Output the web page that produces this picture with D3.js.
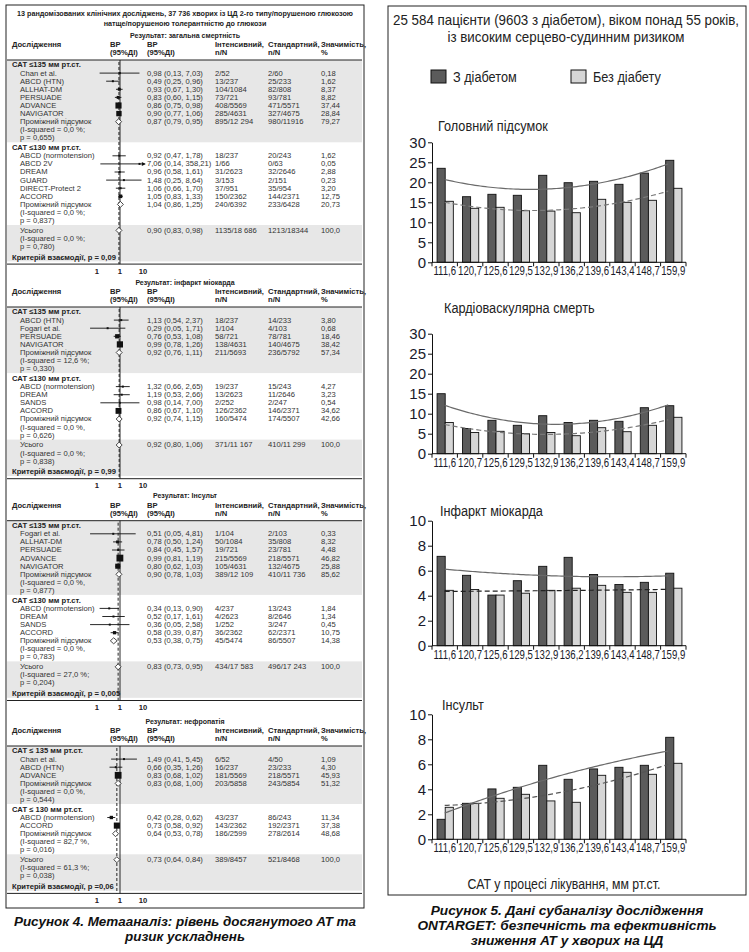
<!DOCTYPE html>
<html><head><meta charset="utf-8">
<script src="https://cdn.jsdelivr.net/npm/d3@7"></script>
<style>body{margin:0;background:#fff}svg{display:block}</style>
</head><body><svg id="c" width="749" height="952"></svg>
<script>
// ---------------- DATA: forest plot (Рисунок 4) ----------------
const forestTitle = ["13 рандомізованих клінічних досліджень, 37 736 хворих із ЦД 2-го типу/порушеною глюкозою",
                     "натще/порушеною толерантністю до глюкози"];
const sectionTitles = ["Результат: загальна смертність", "Результат: інфаркт міокарда", "Результат: Інсульт", "Результат: нефропатія"];
const groupLabelsA = ["САТ ≤135 мм рт.ст.", "САТ ≤135 мм рт.ст.", "САТ ≤135 мм рт.ст.", "САТ ≤ 135 мм рт.ст."];
const groupLabelsB = ["САТ ≤130 мм рт.ст.", "САТ ≤130 мм рт.ст.", "САТ ≤130 мм рт.ст.", "САТ ≤ 130 мм рт.ст."];
// [study, RR, CI low, CI high, intensive n/N, standard n/N, weight %]
const mortA = [
  ["Chan et al.", 0.98, 0.13, 7.03, "2/52", "2/60", 0.18],
  ["ABCD (HTN)", 0.49, 0.25, 0.96, "13/237", "25/233", 1.62],
  ["ALLHAT-DM", 0.93, 0.67, 1.30, "104/1084", "82/808", 8.37],
  ["PERSUADE", 0.83, 0.60, 1.15, "73/721", "93/781", 8.82],
  ["ADVANCE", 0.86, 0.75, 0.98, "408/5569", "471/5571", 37.44],
  ["NAVIGATOR", 0.90, 0.77, 1.06, "285/4631", "327/4675", 28.84]];
const mortB = [
  ["ABCD (normotension)", 0.92, 0.47, 1.78, "18/237", "20/243", 1.62],
  ["ABCD 2V", 7.06, 0.14, 358.21, "1/66", "0/63", 0.05],
  ["DREAM", 0.96, 0.58, 1.61, "31/2623", "32/2646", 2.88],
  ["GUARD", 1.48, 0.25, 8.64, "3/153", "2/151", 0.23],
  ["DIRECT-Protect 2", 1.06, 0.66, 1.70, "37/951", "35/954", 3.20],
  ["ACCORD", 1.05, 0.83, 1.33, "150/2362", "144/2371", 12.75]];
const miA = [
  ["ABCD (HTN)", 1.13, 0.54, 2.37, "18/237", "14/233", 3.80],
  ["Fogari et al.", 0.29, 0.05, 1.71, "1/104", "4/103", 0.68],
  ["PERSUADE", 0.76, 0.53, 1.08, "58/721", "78/781", 18.46],
  ["NAVIGATOR", 0.99, 0.78, 1.26, "138/4631", "140/4675", 38.42]];
const miB = [
  ["ABCD (normotension)", 1.32, 0.66, 2.65, "19/237", "15/243", 4.27],
  ["DREAM", 1.19, 0.53, 2.66, "13/2623", "11/2646", 3.23],
  ["SANDS", 0.98, 0.14, 7.00, "2/252", "2/247", 0.54],
  ["ACCORD", 0.86, 0.67, 1.10, "126/2362", "146/2371", 34.62]];
const strokeA = [
  ["Fogari et al.", 0.51, 0.05, 4.81, "1/104", "2/103", 0.33],
  ["ALLHAT-DM", 0.78, 0.50, 1.24, "50/1084", "35/808", 8.32],
  ["PERSUADE", 0.84, 0.45, 1.57, "19/721", "23/781", 4.48],
  ["ADVANCE", 0.99, 0.81, 1.19, "215/5569", "218/5571", 46.82],
  ["NAVIGATOR", 0.80, 0.62, 1.03, "105/4631", "132/4675", 25.88]];
const strokeB = [
  ["ABCD (normotension)", 0.34, 0.13, 0.90, "4/237", "13/243", 1.84],
  ["DREAM", 0.52, 0.17, 1.61, "4/2623", "8/2646", 1.34],
  ["SANDS", 0.36, 0.05, 2.58, "1/252", "3/247", 0.45],
  ["ACCORD", 0.58, 0.39, 0.87, "36/2362", "62/2371", 10.75]];
const nephA = [
  ["Chan et al.", 1.49, 0.41, 5.45, "6/52", "4/50", 1.09],
  ["ABCD (HTN)", 0.66, 0.35, 1.26, "16/237", "23/233", 4.30],
  ["ADVANCE", 0.83, 0.68, 1.02, "181/5569", "218/5571", 45.93]];
const nephB = [
  ["ABCD (normotension)", 0.42, 0.28, 0.62, "43/237", "86/243", 11.34],
  ["ACCORD", 0.73, 0.58, 0.92, "143/2362", "192/2371", 37.38]];
const studiesA = [mortA, miA, strokeA, nephA];
const studiesB = [mortB, miB, strokeB, nephB];
// [RR, low, high, intensive, standard, weight]
const subtotalsA = [[0.87, 0.79, 0.95, "895/12 294", "980/11916", 79.27],
                    [0.92, 0.76, 1.11, "211/5693", "236/5792", 57.34],
                    [0.90, 0.78, 1.03, "389/12 109", "410/11 736", 85.62],
                    [0.83, 0.68, 1.00, "203/5858", "243/5854", 51.32]];
const subtotalsB = [[1.04, 0.86, 1.25, "240/6392", "233/6428", 20.73],
                    [0.92, 0.74, 1.15, "160/5474", "174/5507", 42.66],
                    [0.53, 0.38, 0.75, "45/5474", "86/5507", 14.38],
                    [0.64, 0.53, 0.78, "186/2599", "278/2614", 48.68]];
const overallRows = [[0.90, 0.83, 0.98, "1135/18 686", "1213/18344", 100],
                     [0.92, 0.80, 1.06, "371/11 167", "410/11 299", 100],
                     [0.83, 0.73, 0.95, "434/17 583", "496/17 243", 100],
                     [0.73, 0.64, 0.84, "389/8457", "521/8468", 100]];
const hetA = [["0,0 %;", "0,655"], ["12,6 %;", "0,330"], ["0,0 %,", "0,877"], ["0,0 %,", "0,544"]];
const hetB = [["0,0 %;", "0,837"], ["0,0 %,", "0,626"], ["0,0 %,", "0,783"], ["82,7 %,", "0,016"]];
const hetAll = [["0,0 %;", "0,780"], ["0,0 %;", "0,838"], ["27,0 %;", "0,204"], ["61,3 %;", "0,038"]];
const interactionP = ["p = 0,09", "p = 0,99", "p = 0,005", "p =0,06"];
const forestTicks = [0.1, 1, 10];
const forestTickLabels = ["1", "1", "10"];
const caption4 = ["Рисунок 4. Метааналіз: рівень досягнутого АТ та", "ризик ускладнень"];

// ---------------- DATA: ONTARGET bars (Рисунок 5) ----------------
const rightTitle = ["25 584 пацієнти (9603 з діабетом), віком понад 55 років,", "із високим серцево-судинним ризиком"];
const seriesNames = ["З діабетом", "Без діабету"];
const sbpLabels = ["111,6", "120,7", "125,6", "129,5", "132,9", "136,2", "139,6", "143,4", "148,7", "159,9"];
const chartTitles = ["Головний підсумок", "Кардіоваскулярна смерть", "Інфаркт міокарда", "Інсульт"];
const primaryDiab   = [23.5, 16.4, 17.0, 16.75, 21.75, 19.9, 20.25, 19.5, 22.3, 25.5];
const primaryNoDiab = [15.25, 13.5, 13.75, 12.9, 12.8, 12.4, 15.75, 15.0, 15.5, 18.5];
const cvDiab   = [15.0, 6.3, 8.35, 7.1, 9.5, 7.8, 8.35, 8.1, 11.5, 12.0];
const cvNoDiab = [7.8, 5.3, 5.6, 5.0, 5.3, 4.5, 6.5, 5.5, 7.1, 9.1];
const miDiab   = [7.15, 5.63, 4.05, 5.2, 6.35, 7.07, 5.7, 4.9, 5.07, 5.8];
const miNoDiab = [4.43, 4.5, 4.05, 4.2, 4.43, 4.6, 4.83, 4.27, 4.27, 4.6];
const strokeDiab   = [1.6, 2.88, 4.03, 4.16, 5.92, 4.8, 5.63, 5.76, 5.92, 8.16];
const strokeNoDiab = [2.56, 2.88, 3.28, 3.6, 3.07, 2.96, 5.12, 5.36, 5.2, 6.08];
const chartMax = [30, 30, 10, 10];
const chartStep = [5, 5, 2, 2];
const xAxisTitle = "САТ у процесі лікування, мм рт.ст.";
const caption5 = ["Рисунок 5. Дані субаналізу дослідження", "ONTARGET: безпечність та ефективність", "зниження АТ у хворих на ЦД"];

// ---------------- RENDER ----------------
const svg = d3.select("#c");
const SANS = "'Liberation Sans',Arial,Helvetica,sans-serif";
function txt(g, x, y, s, o = {}) {
  const sx = o.sx === undefined ? 1.09 : o.sx;
  const el = g.append("text").attr("x", x / sx).attr("y", y).text(s)
    .attr("font-family", SANS).attr("font-size", o.fs || 7)
    .attr("font-weight", o.fw || "normal").attr("font-style", o.it ? "italic" : "normal")
    .attr("text-anchor", o.a || "start").attr("fill", o.c || "#222");
  if (sx !== 1) el.attr("transform", `scale(${sx},1)`);
  return el;
}
const fmt2 = v => v.toFixed(2).replace(".", ",");
const fmtCI = (r, l, h) => `${fmt2(r)} (${fmt2(l)}, ${fmt2(h)})`;
const fmtW = w => w >= 100 ? "100,0" : fmt2(w);

// ===== Left: forest plots =====
const L = svg.append("g");
L.append("rect").attr("x", 6).attr("y", 5).attr("width", 358).attr("height", 903)
  .attr("fill", "#fff").attr("stroke", "#222").attr("stroke-width", 1);
txt(L, 185, 16.5, forestTitle[0], {fw: "bold", a: "middle", sx: 1.03});
txt(L, 185, 26.5, forestTitle[1], {fw: "bold", a: "middle", sx: 1.03});

const fx = d3.scaleLog().domain([0.1, 10]).range([97, 143]);
const FMAX = 12, FMIN = 0.03;
const ROW = 8.1, GAP = 9.8, BL = 2.5, BAND = "#e7e7e7";
const sectionCatY = [65, 312, 525.7, 751];
const col = {grp: 12, st: 20, rrH: 110, rr: 147, int: 215, std: 268, w: 321};

function values(g, y, rr, lo, hi, a, b, w) {
  txt(g, col.rr, y + BL, fmtCI(rr, lo, hi), {c: "#333"});
  txt(g, col.int, y + BL, a, {c: "#333"});
  txt(g, col.std, y + BL, b, {c: "#333"});
  txt(g, col.w, y + BL, fmtW(w), {c: "#333"});
}
function diamond(g, y, rr, lo, hi) {
  const c = fx(rr);
  const l = Math.min(fx(lo), c - 3), r = Math.max(fx(hi), c + 3);
  g.append("path").attr("d", `M${l},${y}L${c},${y - 3}L${r},${y}L${c},${y + 3}Z`)
    .attr("fill", "#fff").attr("stroke", "#333").attr("stroke-width", 0.9);
}
function study(g, y, d) {
  const [name, rr, lo, hi, a, b, w] = d;
  txt(g, col.st, y + BL, name, {c: "#333"});
  const x1 = fx(Math.max(lo, FMIN)), x2 = fx(Math.min(hi, FMAX));
  g.append("line").attr("x1", x1).attr("x2", x2).attr("y1", y).attr("y2", y).attr("stroke", "#111").attr("stroke-width", 0.9);
  if (hi > FMAX) g.append("path").attr("d", `M${x2 + 1},${y}L${x2 - 3},${y - 2}L${x2 - 3},${y + 2}Z`).attr("fill", "#111");
  const s = Math.max(2, Math.sqrt(w));
  g.append("rect").attr("x", fx(rr) - s / 2).attr("y", y - s / 2).attr("width", s).attr("height", s).attr("fill", "#111");
  values(g, y, rr, lo, hi, a, b, w);
}

function forest(si) {
  const g = L.append("g");
  const cy = sectionCatY[si];
  const ruleY = cy - 5;
  const A = studiesA[si], B = studiesB[si];
  const pA = cy + ROW * (A.length + 3);
  const yB = pA + GAP;
  const pB = yB + ROW * (B.length + 3);
  const yO = pB + GAP;
  const pO = yO + 2 * ROW;
  const yK = pO + 10.5;
  const axisY = yK + 7;
  g.append("rect").attr("x", 7).attr("y", ruleY).attr("width", 355).attr("height", pA + 4.4 - ruleY).attr("fill", BAND);
  g.append("rect").attr("x", 7).attr("y", pB + 4.4).attr("width", 355).attr("height", yK + 4.3 - pB - 4.4).attr("fill", BAND);
  // header
  txt(g, 185, cy - 30 + BL, sectionTitles[si], {fw: "bold", a: "middle", sx: 1.0});
  const h1 = cy - 20.5 + BL, h2 = cy - 12.3 + BL;
  txt(g, col.grp, h1, "Дослідження", {fw: "bold"});
  txt(g, col.rrH, h1, "ВР", {fw: "bold"}); txt(g, col.rrH, h2, "(95%ДІ)", {fw: "bold"});
  txt(g, col.rr, h1, "ВР", {fw: "bold"}); txt(g, col.rr, h2, "(95%ДІ)", {fw: "bold"});
  txt(g, col.int, h1, "Інтенсивний,", {fw: "bold"}); txt(g, col.int, h2, "n/N", {fw: "bold"});
  txt(g, col.std, h1, "Стандартний,", {fw: "bold"}); txt(g, col.std, h2, "n/N", {fw: "bold"});
  txt(g, col.w, h1, "Значимість,", {fw: "bold"}); txt(g, col.w, h2, "%", {fw: "bold"});
  g.append("line").attr("x1", 7).attr("x2", 362).attr("y1", ruleY).attr("y2", ruleY).attr("stroke", "#222");
  g.append("line").attr("x1", 7).attr("x2", 362).attr("y1", axisY).attr("y2", axisY).attr("stroke", "#222");
  // reference lines
  g.append("line").attr("x1", fx(1)).attr("x2", fx(1)).attr("y1", ruleY).attr("y2", axisY).attr("stroke", "#111").attr("stroke-width", 0.9);
  const ov = overallRows[si];
  g.append("line").attr("x1", fx(ov[0])).attr("x2", fx(ov[0])).attr("y1", ruleY + 2).attr("y2", axisY)
    .attr("stroke", "#111").attr("stroke-width", 0.9).attr("stroke-dasharray", "3,2");
  // group A
  let y = cy;
  txt(g, col.grp, y + BL, groupLabelsA[si], {fw: "bold"});
  A.forEach(d => { y += ROW; study(g, y, d); });
  y += ROW; let sa = subtotalsA[si];
  txt(g, col.st, y + BL, "Проміжний підсумок", {c: "#333"}); diamond(g, y, sa[0], sa[1], sa[2]); values(g, y, ...sa);
  y += ROW; txt(g, col.st, y + BL, "(I-squared = " + hetA[si][0], {c: "#333"});
  y += ROW; txt(g, col.st, y + BL, "p = " + hetA[si][1] + ")", {c: "#333"});
  // group B
  y = yB;
  txt(g, col.grp, y + BL, groupLabelsB[si], {fw: "bold"});
  B.forEach(d => { y += ROW; study(g, y, d); });
  y += ROW; let sb = subtotalsB[si];
  txt(g, col.st, y + BL, "Проміжний підсумок", {c: "#333"}); diamond(g, y, sb[0], sb[1], sb[2]); values(g, y, ...sb);
  y += ROW; txt(g, col.st, y + BL, "(I-squared = " + hetB[si][0], {c: "#333"});
  y += ROW; txt(g, col.st, y + BL, "p = " + hetB[si][1] + ")", {c: "#333"});
  // overall
  y = yO;
  txt(g, col.st, y + BL, "Усього", {c: "#333"}); diamond(g, y, ov[0], ov[1], ov[2]); values(g, y, ...ov);
  txt(g, col.st, y + ROW + BL, "(I-squared = " + hetAll[si][0], {c: "#333"});
  txt(g, col.st, y + 2 * ROW + BL, "p = " + hetAll[si][1] + ")", {c: "#333"});
  txt(g, col.grp, yK + BL, "Критерій взаємодії, " + interactionP[si], {fw: "bold"});
  forestTicks.forEach((t, i) => txt(g, fx(t), axisY + 9.5, forestTickLabels[i], {a: "middle", fw: "bold"}));
}
for (let i = 0; i < 4; i++) forest(i);
txt(L, 185, 926, caption4[0], {fs: 12.8, fw: "bold", it: true, a: "middle", c: "#111", sx: 1.05});
txt(L, 185, 941, caption4[1], {fs: 12.8, fw: "bold", it: true, a: "middle", c: "#111", sx: 1.05});

// ===== Right: bar charts =====
const R = svg.append("g");
R.append("rect").attr("x", 388).attr("y", 6).attr("width", 358).attr("height", 889)
  .attr("fill", "#fff").attr("stroke", "#222").attr("stroke-width", 1);
txt(R, 566, 25.5, rightTitle[0], {fs: 14.2, a: "middle", sx: 0.94});
txt(R, 566, 42, rightTitle[1], {fs: 14.2, a: "middle", sx: 0.94});
const DARK = "#5b5b5b", LIGHT = "#d6d6d6";
[[431, DARK], [571, LIGHT]].forEach(([x, f], i) => {
  R.append("rect").attr("x", x).attr("y", 70).attr("width", 15).attr("height", 13).attr("fill", f).attr("stroke", "#111");
  txt(R, x + 22, 82.5, seriesNames[i], {fs: 15.5, sx: 0.82});
});

const xBand = d3.scaleBand().domain(sbpLabels).range([432, 686]).padding(0);
const bw = xBand.bandwidth();
const chartSeries = [[primaryDiab, primaryNoDiab], [cvDiab, cvNoDiab], [miDiab, miNoDiab], [strokeDiab, strokeNoDiab]];
const zeroY = [262.3, 453.7, 645.7, 839.3];
const pxPerUnit = [4, 4, 12.5, 12.5];
const titleX = [438, 444, 440, 442];
const titleY = [131.5, 313.3, 516, 710];
const dashColor = ["#7a7a7a", "#777", "#222", "#555"];

function quadFit(ys) {
  const S = [0, 0, 0, 0, 0], T = [0, 0, 0];
  ys.forEach((y, i) => { const x = i + 1; for (let k = 0; k < 5; k++) S[k] += x ** k; for (let k = 0; k < 3; k++) T[k] += y * x ** k; });
  const M = [[S[0], S[1], S[2]], [S[1], S[2], S[3]], [S[2], S[3], S[4]]];
  const det = m => m[0][0] * (m[1][1] * m[2][2] - m[1][2] * m[2][1]) - m[0][1] * (m[1][0] * m[2][2] - m[1][2] * m[2][0]) + m[0][2] * (m[1][0] * m[2][1] - m[1][1] * m[2][0]);
  const D = det(M);
  const coef = [0, 1, 2].map(j => det(M.map((row, r) => row.map((v, c) => c === j ? T[r] : v))) / D);
  return x => coef[0] + coef[1] * x + coef[2] * x * x;
}

chartSeries.forEach(([dia, nod], ci) => {
  const g = R.append("g");
  const y = d3.scaleLinear().domain([0, chartMax[ci]]).range([zeroY[ci], zeroY[ci] - chartMax[ci] * pxPerUnit[ci]]);
  txt(g, titleX[ci], titleY[ci], chartTitles[ci], {fs: 15.5, sx: 0.82});
  // bars
  sbpLabels.forEach((lab, i) => {
    const x0 = xBand(lab) + bw * 0.2, w = bw * 0.32;
    g.append("rect").attr("x", x0).attr("y", y(dia[i])).attr("width", w).attr("height", y(0) - y(dia[i]))
      .attr("fill", DARK).attr("stroke", "#111").attr("stroke-width", 0.9);
    g.append("rect").attr("x", x0 + w).attr("y", y(nod[i])).attr("width", w).attr("height", y(0) - y(nod[i]))
      .attr("fill", LIGHT).attr("stroke", "#111").attr("stroke-width", 0.9);
  });
  // y axis
  const ya = g.append("g").attr("transform", `translate(432,0)`)
    .call(d3.axisLeft(y).tickValues(d3.range(0, chartMax[ci] + 0.001, chartStep[ci])).tickSize(4).tickSizeOuter(0).tickPadding(2));
  ya.selectAll("text").attr("font-family", SANS).attr("font-size", 15).attr("fill", "#1a1a2a");
  ya.selectAll("line,path").attr("stroke", "#111");
  // x axis
  g.append("line").attr("x1", 432).attr("x2", 686).attr("y1", y(0)).attr("y2", y(0)).attr("stroke", "#111");
  sbpLabels.map(l => xBand(l)).concat([xBand.range()[1]]).forEach(x =>
    g.append("line").attr("x1", x).attr("x2", x).attr("y1", y(0)).attr("y2", y(0) + 4).attr("stroke", "#111"));
  sbpLabels.forEach(l => txt(g, xBand(l) + bw / 2, y(0) + 13, l, {fs: 12, a: "middle", c: "#1a1a2a", sx: 0.8}));
  // trend lines (2nd-order polynomial fits)
  const ts = d3.range(1, 9.81, 0.1);
  const xt = t => xBand.range()[0] + (t - 0.5) * bw;
  const fd = quadFit(dia), fn = quadFit(nod);
  const line = f => d3.line().x(t => xt(t)).y(t => y(f(t)))(ts);
  g.append("path").attr("d", line(fn)).attr("fill", "none").attr("stroke", dashColor[ci]).attr("stroke-width", 1.2).attr("stroke-dasharray", "5,3");
  g.append("path").attr("d", line(fd)).attr("fill", "none").attr("stroke", "#6a6a6a").attr("stroke-width", 1.2);
});
txt(R, 564, 889, xAxisTitle, {fs: 15, a: "middle", sx: 0.82});
caption5.forEach((s, i) => txt(svg, 567, 915 + i * 15, s, {fs: 13, fw: "bold", it: true, a: "middle", c: "#111", sx: 1.05}));
</script></body></html>
